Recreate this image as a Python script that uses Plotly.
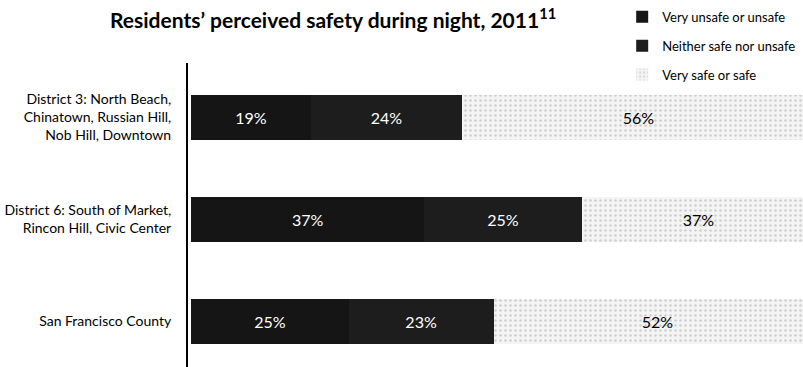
import plotly.graph_objects as go

# data
regions = [
    "District 3: North Beach,<br>Chinatown, Russian Hill,<br>Nob Hill, Downtown",
    "District 6: South of Market,<br>Rincon Hill, Civic Center",
    "San Francisco County",
]
unsafe = [19, 37, 25]
neither = [24, 25, 23]
safe = [56, 37, 52]

series = [
    ("Very unsafe or unsafe", unsafe, "#151515", "white"),
    ("Neither safe nor unsafe", neither, "#1d1d1d", "white"),
    ("Very safe or safe", safe, "#ececec", "black"),
]

FONT = "Lato, Open Sans, sans-serif"

fig = go.Figure()
for i, (name, vals, col, txtcol) in enumerate(series):
    marker = dict(color=col, line=dict(width=0))
    if i == 2:
        # speckled light grey like the scanned original
        marker["pattern"] = dict(shape=".", fgcolor="#a8a8a8", bgcolor="#f4f4f4", size=5, solidity=0.2)
    fig.add_trace(go.Bar(
        y=regions, x=vals, name=name, orientation="h",
        marker=marker,
        text=[f"{v}%" for v in vals], textposition="inside", insidetextanchor="middle",
        textfont=dict(family=FONT, size=16, color=txtcol),
        legendgroup=name,
    ))

fig.update_layout(
    width=803, height=367,
    barmode="stack", bargap=0.56,
    paper_bgcolor="white", plot_bgcolor="white",
    margin=dict(l=188, r=0, t=0, b=0, autoexpand=False),
    title=dict(
        text="<b>Residents’ perceived safety during night, 2011<sup>11</sup></b>",
        x=110 / 803, xanchor="left", xref="container", y=0.945, yanchor="middle",
        font=dict(family=FONT, size=21, color="black"),
    ),
    legend=dict(
        x=0.706, xanchor="left", y=0.995, yanchor="top",
        font=dict(family=FONT, size=13, color="black"),
        tracegroupgap=9, itemwidth=30, bgcolor="rgba(0,0,0,0)",
    ),
    font=dict(family=FONT, color="black"),
    uniformtext=dict(mode="show", minsize=10),
)
fig.update_xaxes(range=[-0.5, 97.1], visible=False)
fig.update_yaxes(
    domain=[0, 304 / 367],
    categoryorder="array", categoryarray=regions,
    range=[2.45, -0.53], showline=True, linecolor="black", linewidth=2,
    showgrid=False, zeroline=False, ticks="", ticklabelstandoff=12, automargin=False,
    tickfont=dict(family=FONT, size=14, color="black"),
)

fig.write_html("out.html", config={"displayModeBar": False},
               post_script="document.body.style.margin='0';")
